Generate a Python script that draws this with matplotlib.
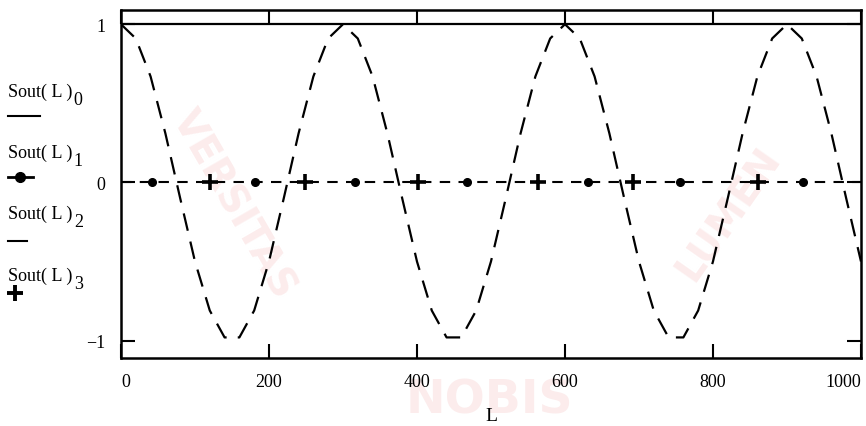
import numpy as np
import matplotlib.pyplot as plt

plt.rcParams['font.family'] = ['Liberation Serif', 'DejaVu Serif']

# Sout(L)_0, every 20 units of L
L = list(range(0, 1001, 20))
sout0 = [1.00, 0.91, 0.67, 0.31, -0.10, -0.50, -0.81, -0.98, -0.98, -0.81,
         -0.50, -0.10, 0.31, 0.67, 0.91,
         1.00, 0.91, 0.67, 0.31, -0.10, -0.50, -0.81, -0.98, -0.98, -0.81,
         -0.50, -0.10, 0.31, 0.67, 0.91,
         1.00, 0.91, 0.67, 0.31, -0.10, -0.50, -0.81, -0.98, -0.98, -0.81,
         -0.50, -0.10, 0.31, 0.67, 0.91,
         1.00, 0.91, 0.67, 0.31, -0.10, -0.50]

# Sout(L)_1 (dots) and Sout(L)_3 (crosses) sit on zero
L_dots = [42, 181, 316, 468, 631, 755, 922]
sout1 = [0, 0, 0, 0, 0, 0, 0]
L_cross = [120, 249, 401, 564, 692, 861]
sout3 = [0, 0, 0, 0, 0, 0]
# Sout(L)_2 flat zero line
L_line = [0, 1000]
sout2 = [0, 0]

xticks = [0, 200, 400, 600, 800, 1000]
yticks = [-1, 0, 1]
legend_names = ['Sout( L )', 'Sout( L )', 'Sout( L )', 'Sout( L )']
legend_subs = ['0', '1', '2', '3']

fig = plt.figure(figsize=(8.66, 4.27), dpi=100)
ax = fig.add_axes([0.1397, 0.1593, 0.8545, 0.8149])

# faint watermark left in the scan
wm = '#fcecec'
fig.text(0.565, 0.06, 'NOBIS', fontsize=34, color=wm, family='DejaVu Sans',
         fontweight='bold', ha='center', va='center', zorder=-1)
fig.text(0.27, 0.52, 'VERSITAS', fontsize=28, color=wm, family='DejaVu Sans',
         fontweight='bold', rotation=-60, ha='center', va='center', zorder=-1)
fig.text(0.84, 0.50, 'LUMEN', fontsize=28, color=wm, family='DejaVu Sans',
         fontweight='bold', rotation=55, ha='center', va='center', zorder=-1)

ax.plot(L, sout0, color='black', lw=1.6, dashes=(8, 5))
ax.plot(L_line, sout2, color='black', lw=1.5, dashes=(5, 4))
ax.plot(L_dots, sout1, 'o', color='black', ms=5.5)
ax.plot(L_cross, sout3, '+', color='black', ms=11, mew=2.6)
ax.axhline(1, color='black', lw=1.6)

ax.set_xlim(0, 1000)
ax.set_ylim(-1.11, 1.09)
ax.set_xticks(xticks)
ax.set_yticks(yticks)
ax.set_xticklabels([str(t) for t in xticks])
ax.set_yticklabels(['\u22121', '0', '1'])
ax.tick_params(direction='in', length=10, width=1.5, labelsize=13,
               top=True, right=True, pad=11)
labels = ax.get_xticklabels()
labels[0].set_ha('left')
labels[-1].set_ha('right')
for sp in ax.spines.values():
    sp.set_linewidth(1.8)
ax.set_xlabel('L', fontsize=14, labelpad=12)
ax.patch.set_alpha(0)

# legend block on the left, Mathcad style
fs = 13
text_y = [92, 153, 214, 276]
for name, sub, ty in zip(legend_names, legend_subs, text_y):
    t = fig.text(8 / 866, 1 - ty / 427, name, fontsize=fs, va='center')
    fig.add_artist(plt.Annotation(sub, xy=(1, 0.5), xycoords=t, xytext=(1, -6),
                                  textcoords='offset points', fontsize=fs,
                                  va='center', ha='left'))

fig.lines.append(plt.Line2D([8 / 866, 40 / 866], [1 - 117 / 427] * 2,
                            color='black', lw=1.5, transform=fig.transFigure))
fig.lines.append(plt.Line2D([8 / 866, 33 / 866], [1 - 178 / 427] * 2,
                            color='black', lw=2, transform=fig.transFigure))
fig.lines.append(plt.Line2D([20 / 866], [1 - 178 / 427], marker='o', ms=7,
                            color='black', transform=fig.transFigure))
fig.lines.append(plt.Line2D([8 / 866, 27 / 866], [1 - 242 / 427] * 2,
                            color='black', lw=1.5, transform=fig.transFigure))
fig.lines.append(plt.Line2D([15 / 866], [1 - 294 / 427], marker='+', ms=11, mew=2.8,
                            color='black', transform=fig.transFigure))

plt.savefig('out.png', dpi=100)
